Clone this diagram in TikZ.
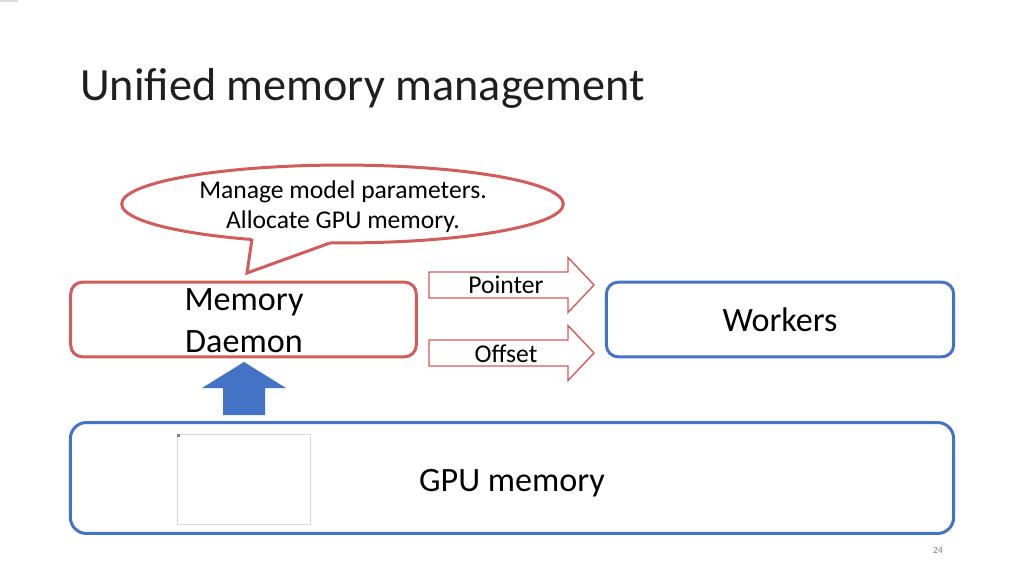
\documentclass[tikz,border=0pt]{standalone}
\usepackage{fontspec}
\setmainfont{Carlito}
\usetikzlibrary{shapes.geometric}
\definecolor{pred}{RGB}{208,92,92}
\definecolor{pblue}{RGB}{68,114,196}
\definecolor{pgray}{RGB}{128,128,128}
\begin{document}
\begin{tikzpicture}[x=0.9375pt,y=-0.9375pt,
  box/.style={draw, line width=2.8pt, rounded corners=11pt, inner sep=0pt},
  redbox/.style={box, draw=pred},
  bluebox/.style={box, draw=pblue},
  boxtext/.style={font=\fontsize{32}{39.4}\selectfont, align=center, inner sep=0pt},
  smalltext/.style={font=\fontsize{24}{28}\selectfont, align=center, inner sep=0pt},
  outline arrow/.style={draw=pred, line width=1.3pt, fill=white, line join=miter},
  rarrow/.pic={\path[outline arrow] (0,-13) -- (139,-13) -- (139,-27.5) -- (165,0) -- (139,27.5) -- (139,13) -- (0,13) -- cycle;}
]
\useasboundingbox[fill=white] (0,0) rectangle (1024,576);
\draw[black!15, line width=1pt] (0,1) -- (18,1);

% title
\node[anchor=base west, inner sep=0pt, text=black!88, font=\fontsize{43.3}{52}\selectfont] (title) at (80,101) {Unified memory management};

% callout
\node[draw=pred, line width=2.8pt, ellipse, fill=white, minimum width=414pt, minimum height=73pt, inner sep=0pt] (callout) at (342.5,204) {};
\coordinate (tl) at (252,239);
\coordinate (tip) at (247,273);
\coordinate (tr) at (330,243);
\fill[white] (252,231) -- (tl) -- (tip) -- (tr) -- (330,235) -- cycle;
\draw[pred, line width=2.8pt, line join=miter] (tl) -- (tip) -- (tr);
\node[smalltext] (calloutText) at (343,206.5) {Manage model parameters.\\Allocate GPU memory.};

% boxes
\node[redbox, minimum width=324pt, minimum height=70pt] (daemon) at (243.5,319.5) {};
\node[boxtext] (daemonText) at (244,320.5) {Memory\\Daemon};
\node[bluebox, minimum width=325.5pt, minimum height=70pt] (workers) at (780,319.5) {};
\node[boxtext, anchor=base] (workersText) at (780,331) {Workers};
\node[bluebox, rounded corners=15pt, minimum width=828pt, minimum height=104pt] (gpu) at (512,478) {};
\node[boxtext, anchor=base] (gpuText) at (512,491) {GPU memory};

% picture placeholder inside GPU box
\draw[black!15, line width=0.8pt] (177.5,434.5) rectangle (310,524);
\fill[black!50] (177,434) rectangle (179.5,436.5);

% up arrow
\fill[pblue] (223,415) -- (223,388) -- (202,388) -- (244,362) -- (286,388) -- (265,388) -- (265,415) -- cycle;

% pointer / offset arrows
\pic at (429,285) {rarrow};
\pic at (429,353) {rarrow};
\node[smalltext, anchor=base] (pointer) at (506,293) {Pointer};
\node[smalltext, anchor=base] (offset) at (506,362) {Offset};

% page number
\node[anchor=base, inner sep=0pt, text=pgray, font=\fontsize{9}{11}\selectfont] (page) at (938,553) {24};
\end{tikzpicture}
\end{document}
